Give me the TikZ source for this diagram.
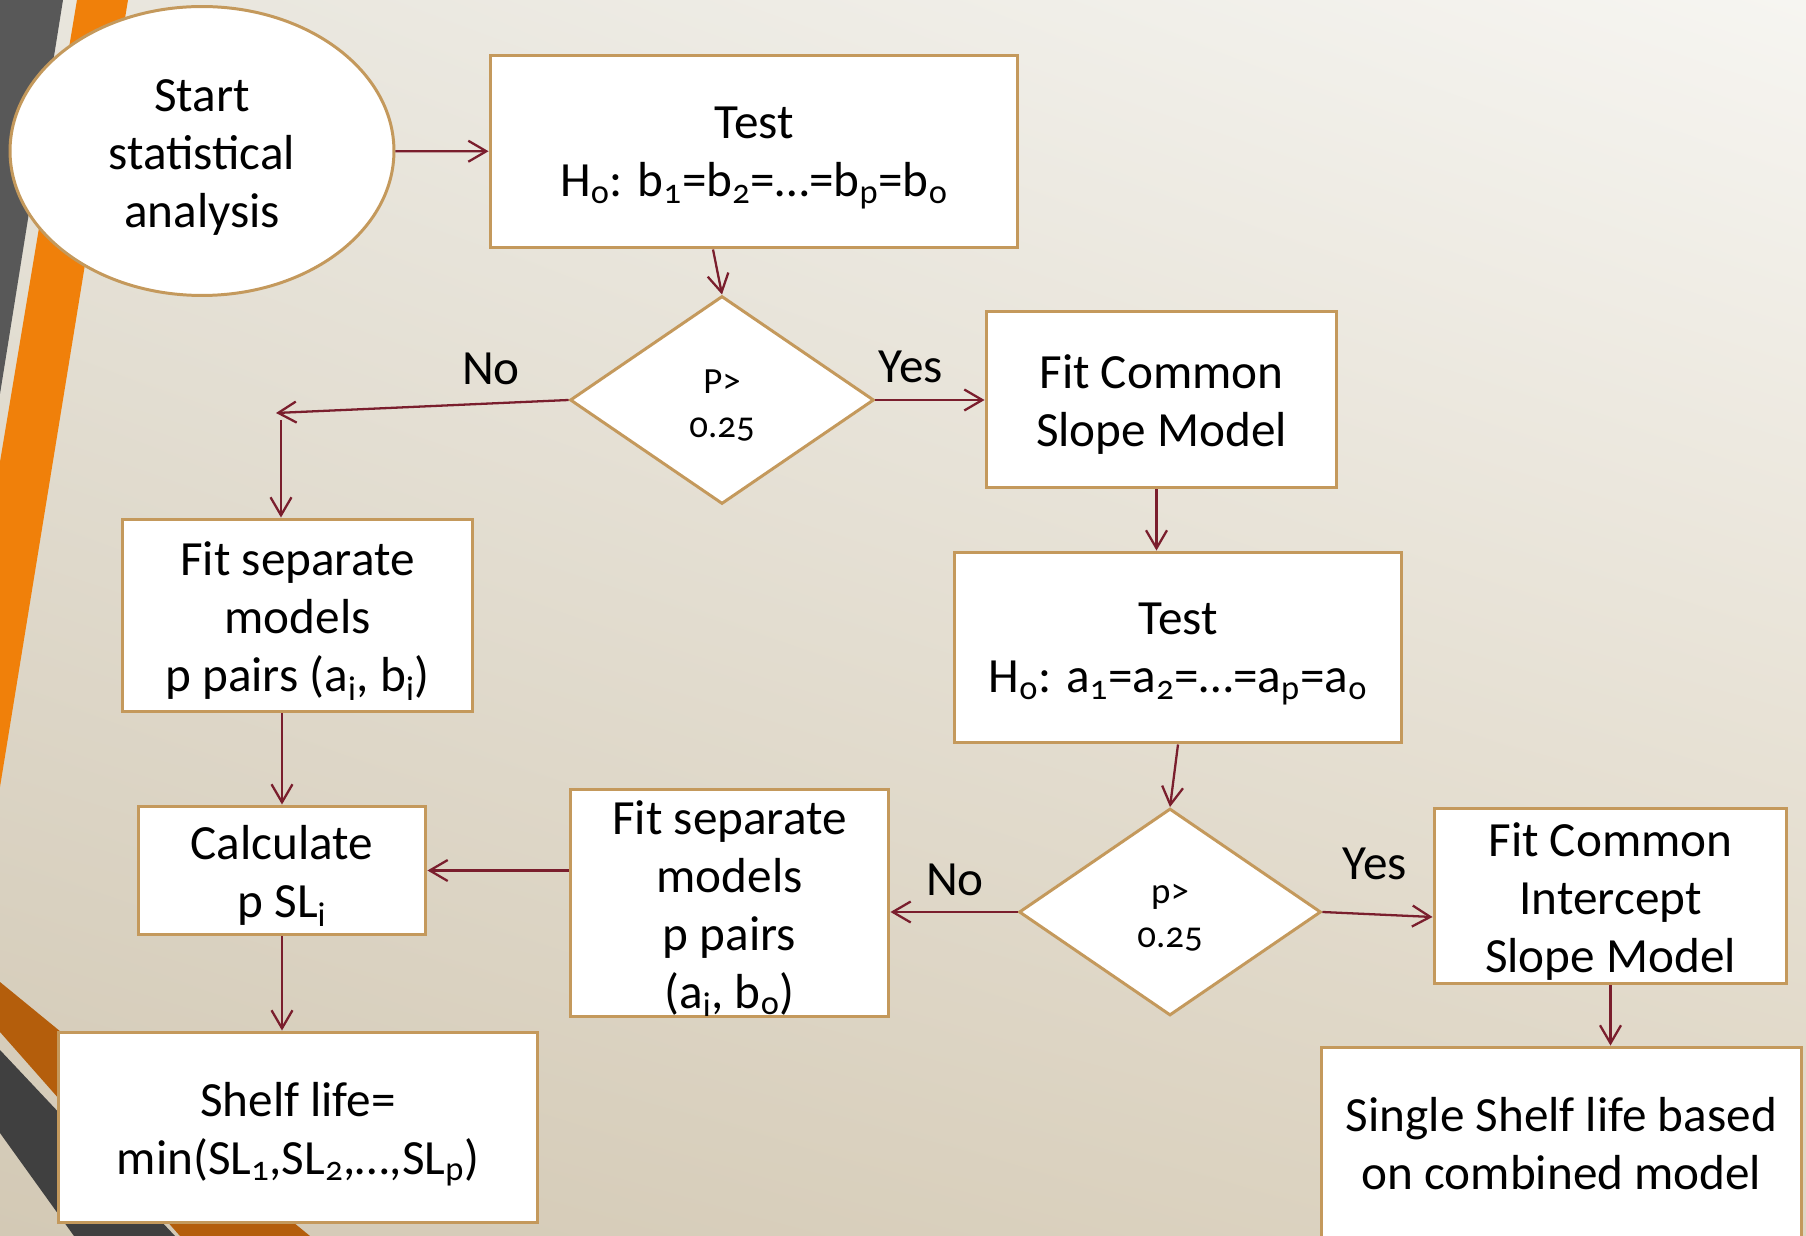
\documentclass[tikz,border=0pt]{standalone}
\usepackage{fontspec}
\setmainfont{Carlito}[Numbers=OldStyle]
\usetikzlibrary{shapes.geometric,arrows.meta,calc,shadings}
\definecolor{bord}{RGB}{196,153,92}
\definecolor{arrc}{RGB}{122,30,45}
\definecolor{orangeA}{RGB}{240,128,10}
\definecolor{orangeB}{RGB}{180,94,12}
\definecolor{grayA}{RGB}{88,88,88}
\definecolor{grayB}{RGB}{64,64,64}
\definecolor{bgUL}{RGB}{232,229,220}
\definecolor{bgUR}{RGB}{246,245,241}
\definecolor{bgLL}{RGB}{211,201,181}
\definecolor{bgLR}{RGB}{222,213,195}
\newcommand{\bigtxt}{\fontsize{28}{33}\selectfont}
\newcommand{\diatxt}{\fontsize{21}{25}\selectfont}
\newcommand{\ftop}{\rule{0pt}{25.5pt}}
\begin{document}
\begin{tikzpicture}[x=0.02cm,y=-0.02cm,
  box/.style={draw=bord,line width=1.7pt,fill=white,rectangle,inner sep=0pt,align=center,font=\bigtxt},
  oval/.style={draw=bord,line width=1.7pt,fill=white,ellipse,inner sep=0pt,align=center,font=\bigtxt},
  dia/.style={draw=bord,line width=1.7pt,fill=white,diamond,inner sep=0pt,align=center,font=\diatxt},
  arr/.style={draw=arrc,line width=1.3pt,-{Straight Barb[length=0.36cm,width=0.42cm]}},
  lbl/.style={font=\bigtxt,inner sep=0pt}]
\useasboundingbox (0,0) rectangle (1806,1236);
\clip (0,0) rectangle (1806,1236);
% background
\shade[upper left=bgUL,upper right=bgUR,lower left=bgLL,lower right=bgLR]
  (0,0) rectangle (1806,1236);
% decorations
\fill[grayA] (0,0) -- (63,0) -- (0,394) -- cycle;
\fill[orangeA] (77,0) -- (128,0) -- (0,787) -- (0,462) -- cycle;
\fill[orangeB] (0,982) -- (310,1236) -- (180,1236) -- (0,1032) -- cycle;
\fill[grayB] (0,1050) -- (175,1236) -- (74,1236) -- (0,1133) -- cycle;
% nodes
\node[oval,minimum width=7.68cm,minimum height=5.78cm] (start) at (202,151) {\ftop Start\\statistical\\analysis};
\node[box,minimum width=10.56cm,minimum height=3.86cm] (test1) at (754,151.5)
  {\ftop Test\\H\textsubscript{o}: b\textsubscript{1}=b\textsubscript{2}=…=b\textsubscript{p}=b\textsubscript{o}};
\node[dia,minimum width=6.08cm,minimum height=4.16cm] (d1) at (722,400) {\rule{0pt}{20pt}P>\\0.25};
\node[box,minimum width=7.02cm,minimum height=3.54cm] (fcsm) at (1161.5,399.5) {\ftop Fit Common\\Slope Model};
\node[box,minimum width=7.02cm,minimum height=3.86cm] (sep1) at (297.5,615.5)
  {\ftop Fit separate\\models\\p pairs (a\textsubscript{i}, b\textsubscript{i})};
\node[box,minimum width=5.76cm,minimum height=2.58cm] (calc) at (282,870.5) {\ftop Calculate\\p SL\textsubscript{i}};
\node[box,minimum width=9.6cm,minimum height=3.82cm] (shelf) at (298,1127.5)
  {\rule{0pt}{27pt}Shelf life=\\min(SL\textsubscript{1},SL\textsubscript{2},…,SL\textsubscript{p})};
\node[box,minimum width=6.38cm,minimum height=4.48cm] (sep2) at (729.5,903)
  {\ftop Fit separate\\models\\p pairs\\(a\textsubscript{i}, b\textsubscript{o})};
\node[box,minimum width=8.96cm,minimum height=3.82cm] (test2) at (1178,647.5)
  {\ftop Test\\H\textsubscript{o}: a\textsubscript{1}=a\textsubscript{2}=…=a\textsubscript{p}=a\textsubscript{o}};
\node[dia,minimum width=6.04cm,minimum height=4.14cm] (d2) at (1170,912) {\rule{0pt}{18pt}p>\\0.25};
\node[box,minimum width=7.06cm,minimum height=3.52cm] (fcis) at (1610.5,896) {\ftop Fit Common\\Intercept\\Slope Model};
\node[box,minimum width=9.62cm,minimum height=3.86cm] (single) at (1561.5,1143.5) {Single Shelf life based\\on combined model};
% labels
\node[lbl] (yes1) at (911,367) {Yes};
\node[lbl] (no1) at (491,369) {No};
\node[lbl] (no2) at (955,880) {No};
\node[lbl] (yes2) at (1375,864) {Yes};
% helper coordinates
\coordinate (c1) at (276,413);
\coordinate (c2) at (281,420);
% connectors
\draw[arr] (start) -- (test1);
\draw[arr] ([xshift=-0.82cm]test1.south) -- (d1.north);
\draw[arr] (d1.east) -- (fcsm.west |- d1.east);
\draw[arr] (d1.west) -- (c1);
\draw[arr] (c2) -- (c2 |- sep1.north);
\draw[arr] (calc.north |- sep1.south) -- (calc.north);
\draw[arr] (calc.south) -- (calc.south |- shelf.north);
\draw[arr] (sep2.west |- calc.east) -- (calc.east);
\draw[arr] ([xshift=-0.1cm]fcsm.south) -- ([xshift=-0.1cm]fcsm.south |- test2.north);
\draw[arr] (test2.south) -- (d2.north);
\draw[arr] (d2.west) -- (d2.west -| sep2.east);
\draw[arr] (d2.east) -- ([yshift=-0.42cm]fcis.west);
\draw[arr] (fcis.south) -- (fcis.south |- single.north);
\end{tikzpicture}
\end{document}
